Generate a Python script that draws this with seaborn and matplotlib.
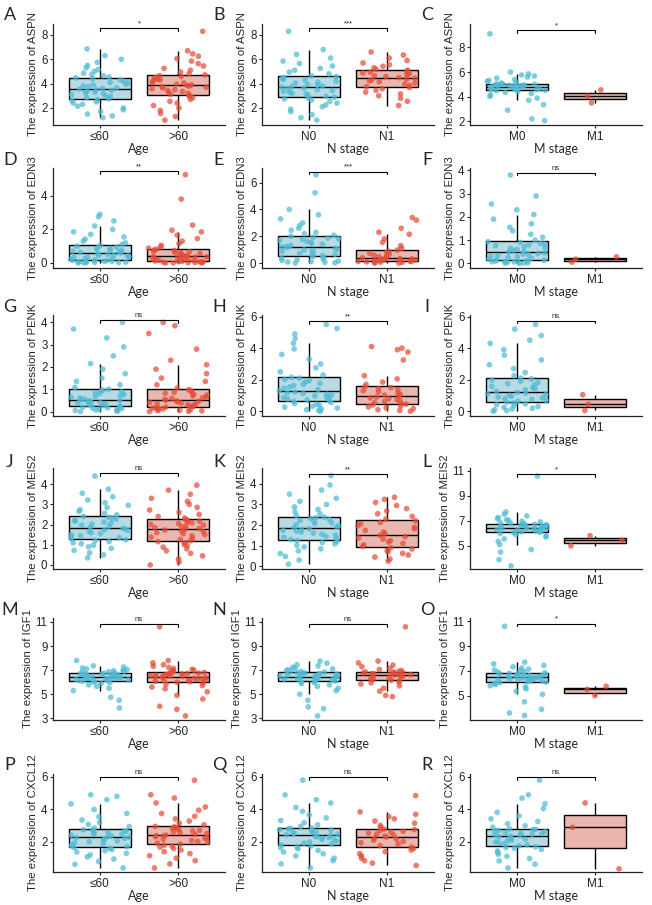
import numpy as np
import pandas as pd
import matplotlib
matplotlib.use("Agg")
import matplotlib.pyplot as plt
import seaborn as sns

# ---------------- data ----------------
aspn_le60 = [1.2, 1.35, 1.5, 1.7, 1.85, 2.0, 2.15, 2.3, 2.4, 2.5, 2.6, 2.68,
             2.75, 2.85, 2.95, 3.0, 3.1, 3.2, 3.25, 3.3, 3.38, 3.45, 3.5, 3.55,
             3.6, 3.65, 3.75, 3.8, 3.9, 3.95, 4.05, 4.1, 4.2, 4.3, 4.4, 4.48,
             4.55, 4.65, 4.75, 4.85, 5.0, 5.15, 5.3, 5.5, 5.75, 6.0, 6.3, 6.85]
aspn_gt60 = [1.0, 1.3, 1.55, 1.8, 2.0, 2.2, 2.4, 2.55, 2.7, 2.85, 2.95, 3.05,
             3.12, 3.2, 3.3, 3.35, 3.45, 3.5, 3.6, 3.65, 3.7, 3.75, 3.8, 3.85,
             3.9, 3.95, 4.05, 4.1, 4.2, 4.3, 4.35, 4.45, 4.5, 4.6, 4.65, 4.72,
             4.8, 4.95, 5.1, 5.25, 5.45, 5.65, 5.85, 6.05, 6.25, 6.45, 6.7, 8.3]
aspn_n0 = [1.0, 1.2, 1.45, 1.7, 1.9, 2.1, 2.25, 2.4, 2.55, 2.65, 2.75, 2.83,
           2.88, 2.95, 3.05, 3.15, 3.2, 3.3, 3.35, 3.45, 3.5, 3.58, 3.63, 3.7,
           3.75, 3.8, 3.9, 3.95, 4.05, 4.1, 4.2, 4.3, 4.35, 4.45, 4.5, 4.58,
           4.65, 4.8, 4.95, 5.1, 5.25, 5.45, 5.65, 5.85, 6.1, 6.4, 6.8, 8.3]
aspn_n1 = [2.2, 2.55, 2.8, 3.0, 3.15, 3.3, 3.45, 3.58, 3.68,
           3.75, 3.85, 3.95, 4.05, 4.15, 4.22, 4.3, 4.38, 4.45,
           4.5, 4.58, 4.65, 4.72, 4.8, 4.88, 4.95, 5.02, 5.1,
           5.18, 5.3, 5.42, 5.55, 5.7, 5.9, 6.1, 6.35, 6.6]
aspn_m0 = [2.05, 2.2, 2.9, 3.35, 3.7, 3.88, 4.02, 4.15, 4.26, 4.35, 4.42, 4.48,
           4.52, 4.55, 4.58, 4.6, 4.63, 4.66, 4.68, 4.7, 4.73, 4.75, 4.78, 4.8,
           4.82, 4.84, 4.86, 4.88, 4.9, 4.92, 4.94, 4.96, 4.98, 5.0, 5.02, 5.05,
           5.1, 5.17, 5.24, 5.32, 5.4, 5.5, 5.6, 5.68, 5.76, 5.85, 6.0, 9.1]
aspn_m1 = [3.5, 4.05, 4.55]

edn3_le60 = [0.0, 0.01, 0.02, 0.03, 0.04, 0.05, 0.06, 0.08, 0.1, 0.11, 0.13, 0.15,
             0.18, 0.22, 0.25, 0.28, 0.32, 0.35, 0.38, 0.42, 0.45, 0.48, 0.52, 0.55,
             0.6, 0.63, 0.67, 0.7, 0.75, 0.8, 0.83, 0.87, 0.9, 0.95, 1.0, 1.05,
             1.1, 1.2, 1.3, 1.42, 1.55, 1.7, 1.85, 2.0, 2.2, 2.5, 2.75, 2.9]
edn3_gt60 = [0.0, 0.0, 0.01, 0.02, 0.03, 0.04, 0.05, 0.06, 0.07, 0.08, 0.1, 0.12,
             0.14, 0.16, 0.19, 0.22, 0.24, 0.27, 0.3, 0.32, 0.35, 0.37, 0.39, 0.4,
             0.43, 0.46, 0.5, 0.53, 0.56, 0.6, 0.63, 0.67, 0.7, 0.74, 0.78, 0.82,
             0.88, 0.95, 1.05, 1.15, 1.3, 1.45, 1.65, 1.85, 1.95, 2.25, 3.8, 5.25]
edn3_n0 = [0.0, 0.02, 0.05, 0.08, 0.12, 0.15, 0.2, 0.25, 0.3, 0.36, 0.42, 0.5,
           0.55, 0.6, 0.66, 0.72, 0.8, 0.86, 0.92, 0.98, 1.04, 1.1, 1.15, 1.2,
           1.25, 1.32, 1.4, 1.48, 1.55, 1.62, 1.7, 1.76, 1.82, 1.88, 1.94, 2.0,
           2.08, 2.18, 2.3, 2.45, 2.6, 2.8, 3.0, 3.3, 3.6, 4.0, 5.25, 6.6]
edn3_n1 = [0.0, 0.01, 0.03, 0.05, 0.07, 0.09, 0.11, 0.13, 0.15,
           0.17, 0.2, 0.22, 0.25, 0.27, 0.29, 0.31, 0.33, 0.35,
           0.4, 0.46, 0.52, 0.58, 0.65, 0.72, 0.8, 0.88, 0.97,
           1.1, 1.3, 1.55, 1.8, 2.15, 2.3, 2.6, 3.2, 3.4]
edn3_m0 = [0.0, 0.01, 0.02, 0.03, 0.04, 0.05, 0.06, 0.07, 0.08, 0.1, 0.11, 0.13,
           0.16, 0.19, 0.22, 0.25, 0.28, 0.31, 0.34, 0.37, 0.4, 0.43, 0.46, 0.48,
           0.52, 0.56, 0.6, 0.64, 0.68, 0.72, 0.76, 0.8, 0.83, 0.86, 0.9, 0.93,
           1.0, 1.12, 1.25, 1.4, 1.55, 1.7, 1.9, 2.1, 2.3, 2.55, 2.9, 3.8]
edn3_m1 = [0.05, 0.18, 0.28]

penk_le60 = [0.0, 0.02, 0.03, 0.05, 0.07, 0.09, 0.11, 0.13, 0.15, 0.17, 0.2, 0.22,
             0.25, 0.27, 0.3, 0.32, 0.35, 0.38, 0.4, 0.43, 0.45, 0.48, 0.5, 0.52,
             0.56, 0.6, 0.64, 0.68, 0.72, 0.76, 0.8, 0.84, 0.88, 0.92, 0.96, 1.0,
             1.08, 1.2, 1.35, 1.5, 1.7, 1.9, 2.15, 2.5, 2.9, 3.3, 3.7, 4.0]
penk_gt60 = [0.0, 0.01, 0.03, 0.04, 0.06, 0.08, 0.1, 0.12, 0.14, 0.16, 0.18, 0.2,
             0.22, 0.25, 0.28, 0.3, 0.33, 0.36, 0.38, 0.41, 0.43, 0.46, 0.48, 0.5,
             0.54, 0.58, 0.62, 0.66, 0.7, 0.74, 0.78, 0.82, 0.86, 0.9, 0.94, 0.98,
             1.05, 1.2, 1.35, 1.5, 1.7, 1.9, 2.1, 2.3, 2.8, 3.5, 3.85, 4.0]
penk_n0 = [0.0, 0.05, 0.1, 0.15, 0.2, 0.26, 0.32, 0.38, 0.44, 0.5, 0.56, 0.62,
           0.67, 0.72, 0.77, 0.82, 0.87, 0.92, 0.97, 1.02, 1.08, 1.13, 1.18, 1.22,
           1.3, 1.38, 1.46, 1.54, 1.62, 1.7, 1.78, 1.86, 1.94, 2.02, 2.1, 2.15,
           2.3, 2.5, 2.75, 3.0, 3.3, 3.6, 3.95, 4.3, 4.6, 4.9, 5.25, 5.5]
penk_n1 = [0.0, 0.05, 0.1, 0.16, 0.22, 0.28, 0.34, 0.4, 0.45,
           0.5, 0.56, 0.62, 0.68, 0.74, 0.8, 0.85, 0.9, 0.95,
           1.02, 1.08, 1.15, 1.22, 1.3, 1.37, 1.44, 1.5, 1.55,
           1.7, 1.85, 2.05, 2.25, 3.25, 3.75, 3.9, 4.0, 4.1]
penk_m0 = [0.0, 0.04, 0.09, 0.14, 0.19, 0.25, 0.3, 0.36, 0.42, 0.47, 0.52, 0.58,
           0.63, 0.69, 0.74, 0.8, 0.85, 0.9, 0.96, 1.01, 1.06, 1.11, 1.16, 1.2,
           1.27, 1.35, 1.42, 1.5, 1.58, 1.66, 1.74, 1.82, 1.9, 1.98, 2.05, 2.1,
           2.25, 2.45, 2.7, 2.95, 3.25, 3.55, 3.9, 4.3, 4.5, 4.8, 5.2, 5.5]
penk_m1 = [0.05, 0.45, 1.05]

meis2_le60 = [0.35, 0.5, 0.6, 0.72, 0.82, 0.9, 0.98, 1.05, 1.1, 1.16, 1.2, 1.25,
              1.3, 1.35, 1.4, 1.45, 1.5, 1.55, 1.6, 1.65, 1.7, 1.74, 1.78, 1.82,
              1.87, 1.92, 1.97, 2.02, 2.07, 2.12, 2.17, 2.22, 2.27, 2.32, 2.36, 2.4,
              2.48, 2.56, 2.65, 2.74, 2.84, 2.95, 3.08, 3.22, 3.38, 3.55, 3.75, 4.4]
meis2_gt60 = [0.0, 0.15, 0.3, 0.45, 0.58, 0.7, 0.8, 0.88, 0.95, 1.02, 1.08, 1.15,
              1.2, 1.26, 1.32, 1.38, 1.44, 1.5, 1.55, 1.6, 1.65, 1.69, 1.73, 1.77,
              1.81, 1.85, 1.89, 1.93, 1.97, 2.01, 2.05, 2.09, 2.13, 2.17, 2.21, 2.25,
              2.32, 2.4, 2.5, 2.6, 2.72, 2.85, 3.0, 3.15, 3.3, 3.5, 3.7, 3.95]
meis2_n0 = [0.1, 0.3, 0.48, 0.62, 0.75, 0.85, 0.94, 1.02, 1.09, 1.15, 1.2, 1.25,
            1.3, 1.35, 1.41, 1.46, 1.51, 1.56, 1.61, 1.66, 1.71, 1.75, 1.79, 1.83,
            1.87, 1.92, 1.97, 2.02, 2.07, 2.12, 2.17, 2.22, 2.27, 2.31, 2.35, 2.38,
            2.46, 2.55, 2.65, 2.76, 2.88, 3.0, 3.15, 3.3, 3.5, 3.7, 3.95, 4.4]
meis2_n1 = [0.25, 0.35, 0.45, 0.55, 0.63, 0.7, 0.77, 0.84, 0.9,
            0.97, 1.04, 1.11, 1.18, 1.25, 1.32, 1.38, 1.44, 1.5,
            1.58, 1.66, 1.74, 1.82, 1.9, 1.98, 2.06, 2.13, 2.2,
            2.3, 2.42, 2.55, 2.68, 2.8, 2.95, 3.1, 3.25, 3.35]
meis2_m0 = [3.4, 3.9, 4.5, 4.7, 5.1, 5.35, 5.55, 5.7, 5.8, 5.9, 5.98, 6.05,
            6.08, 6.11, 6.14, 6.17, 6.2, 6.23, 6.26, 6.29, 6.32, 6.35, 6.38, 6.4,
            6.43, 6.46, 6.49, 6.52, 6.55, 6.58, 6.61, 6.64, 6.67, 6.7, 6.72, 6.75,
            6.8, 6.85, 6.9, 6.96, 7.02, 7.08, 7.15, 7.25, 7.38, 7.52, 7.7, 10.55]
meis2_m1 = [5.0, 5.45, 5.8]

igf1_le60 = [3.85, 4.5, 4.75, 5.3, 5.5, 5.65, 5.78, 5.88, 5.96, 6.02, 6.06, 6.1,
             6.13, 6.16, 6.19, 6.22, 6.25, 6.27, 6.3, 6.32, 6.34, 6.36, 6.38, 6.4,
             6.43, 6.46, 6.49, 6.52, 6.55, 6.58, 6.61, 6.64, 6.67, 6.7, 6.72, 6.75,
             6.79, 6.83, 6.87, 6.91, 6.95, 7.0, 7.05, 7.11, 7.18, 7.26, 7.35, 7.8]
igf1_gt60 = [3.2, 3.75, 4.0, 4.6, 4.9, 5.2, 5.45, 5.6, 5.72, 5.82, 5.92, 6.0,
             6.04, 6.08, 6.12, 6.16, 6.2, 6.24, 6.28, 6.32, 6.36, 6.4, 6.43, 6.45,
             6.48, 6.51, 6.54, 6.57, 6.6, 6.63, 6.66, 6.69, 6.72, 6.75, 6.78, 6.8,
             6.85, 6.9, 6.95, 7.0, 7.07, 7.14, 7.22, 7.32, 7.45, 7.6, 7.8, 10.6]
igf1_n0 = [3.2, 3.8, 3.95, 4.5, 5.0, 5.3, 5.5, 5.65, 5.78, 5.88, 5.97, 6.05,
           6.09, 6.13, 6.17, 6.21, 6.25, 6.28, 6.31, 6.34, 6.37, 6.4, 6.43, 6.45,
           6.48, 6.51, 6.54, 6.57, 6.6, 6.63, 6.66, 6.69, 6.72, 6.75, 6.78, 6.8,
           6.84, 6.88, 6.93, 6.98, 7.04, 7.1, 7.17, 7.25, 7.35, 7.45, 7.58, 7.75]
igf1_n1 = [4.8, 4.9, 5.25, 5.5, 5.7, 5.85, 5.95, 6.03, 6.1,
           6.16, 6.22, 6.28, 6.34, 6.4, 6.46, 6.51, 6.56, 6.6,
           6.63, 6.66, 6.69, 6.72, 6.75, 6.78, 6.8, 6.83, 6.85,
           6.9, 6.97, 7.05, 7.15, 7.28, 7.42, 7.6, 7.75, 10.6]
igf1_m0 = [3.4, 3.6, 3.9, 4.5, 5.1, 5.35, 5.55, 5.7, 5.8, 5.9, 5.98, 6.05,
           6.09, 6.13, 6.17, 6.21, 6.25, 6.28, 6.31, 6.34, 6.37, 6.4, 6.43, 6.45,
           6.48, 6.51, 6.54, 6.57, 6.6, 6.63, 6.66, 6.69, 6.72, 6.75, 6.78, 6.8,
           6.85, 6.9, 6.95, 7.01, 7.07, 7.14, 7.22, 7.32, 7.44, 7.56, 7.7, 10.6]
igf1_m1 = [5.0, 5.5, 5.75]

cxcl12_le60 = [0.4, 0.62, 0.8, 0.95, 1.08, 1.2, 1.3, 1.38, 1.46, 1.53, 1.6, 1.65,
               1.71, 1.77, 1.83, 1.89, 1.95, 2.01, 2.07, 2.12, 2.17, 2.22, 2.26, 2.3,
               2.34, 2.38, 2.42, 2.46, 2.5, 2.54, 2.58, 2.62, 2.66, 2.7, 2.73, 2.75,
               2.85, 2.95, 3.08, 3.2, 3.35, 3.55, 3.75, 4.0, 4.35, 4.6, 4.8, 4.9]
cxcl12_gt60 = [0.4, 0.65, 0.85, 1.0, 1.15, 1.28, 1.4, 1.5, 1.6, 1.68, 1.75, 1.8,
               1.86, 1.92, 1.98, 2.04, 2.1, 2.16, 2.22, 2.27, 2.32, 2.36, 2.39, 2.42,
               2.47, 2.52, 2.57, 2.62, 2.67, 2.72, 2.77, 2.81, 2.85, 2.89, 2.92, 2.95,
               3.05, 3.15, 3.28, 3.42, 3.58, 3.75, 3.95, 4.15, 4.4, 4.7, 4.9, 5.8]
cxcl12_n0 = [0.4, 0.65, 0.85, 1.0, 1.14, 1.27, 1.38, 1.48, 1.57, 1.64, 1.7, 1.75,
             1.81, 1.87, 1.93, 1.99, 2.05, 2.11, 2.17, 2.22, 2.27, 2.32, 2.36, 2.4,
             2.44, 2.48, 2.52, 2.56, 2.6, 2.64, 2.68, 2.72, 2.76, 2.8, 2.83, 2.85,
             2.95, 3.05, 3.18, 3.32, 3.48, 3.66, 3.88, 4.12, 4.4, 4.6, 4.9, 5.8]
cxcl12_n1 = [0.55, 0.7, 0.85, 1.0, 1.15, 1.28, 1.4, 1.5, 1.6,
             1.68, 1.77, 1.86, 1.95, 2.03, 2.1, 2.17, 2.24, 2.3,
             2.36, 2.42, 2.48, 2.54, 2.6, 2.66, 2.71, 2.76, 2.8,
             2.9, 3.02, 3.15, 3.28, 3.42, 3.56, 3.7, 3.85, 4.85]
cxcl12_m0 = [0.4, 0.63, 0.83, 0.98, 1.12, 1.24, 1.35, 1.45, 1.54, 1.61, 1.66, 1.7,
             1.76, 1.82, 1.88, 1.94, 2.0, 2.06, 2.12, 2.17, 2.22, 2.27, 2.31, 2.35,
             2.39, 2.43, 2.47, 2.51, 2.55, 2.59, 2.63, 2.67, 2.71, 2.75, 2.78, 2.8,
             2.9, 3.0, 3.12, 3.26, 3.42, 3.6, 3.82, 4.06, 4.35, 4.7, 4.9, 5.8]
cxcl12_m1 = [0.35, 2.9, 4.4]

genes = ["ASPN", "EDN3", "PENK", "MEIS2", "IGF1", "CXCL12"]
variables = ["Age", "N stage", "M stage"]
group_labels = {"Age": ["≤60", ">60"], "N stage": ["N0", "N1"], "M stage": ["M0", "M1"]}

expr = {
    ("ASPN", "Age"): (aspn_le60, aspn_gt60),
    ("ASPN", "N stage"): (aspn_n0, aspn_n1),
    ("ASPN", "M stage"): (aspn_m0, aspn_m1),
    ("EDN3", "Age"): (edn3_le60, edn3_gt60),
    ("EDN3", "N stage"): (edn3_n0, edn3_n1),
    ("EDN3", "M stage"): (edn3_m0, edn3_m1),
    ("PENK", "Age"): (penk_le60, penk_gt60),
    ("PENK", "N stage"): (penk_n0, penk_n1),
    ("PENK", "M stage"): (penk_m0, penk_m1),
    ("MEIS2", "Age"): (meis2_le60, meis2_gt60),
    ("MEIS2", "N stage"): (meis2_n0, meis2_n1),
    ("MEIS2", "M stage"): (meis2_m0, meis2_m1),
    ("IGF1", "Age"): (igf1_le60, igf1_gt60),
    ("IGF1", "N stage"): (igf1_n0, igf1_n1),
    ("IGF1", "M stage"): (igf1_m0, igf1_m1),
    ("CXCL12", "Age"): (cxcl12_le60, cxcl12_gt60),
    ("CXCL12", "N stage"): (cxcl12_n0, cxcl12_n1),
    ("CXCL12", "M stage"): (cxcl12_m0, cxcl12_m1),
}

# significance labels, row = gene, col = variable
sig_labels = [["*", "***", "*"],
              ["**", "***", "ns"],
              ["ns", "**", "ns"],
              ["ns", "**", "*"],
              ["ns", "ns", "*"],
              ["ns", "ns", "ns"]]
sig_height = [[8.55, 8.55, 9.41],
              [5.45, 6.82, 3.89],
              [4.1, 5.7, 5.73],
              [4.55, 4.48, 10.7],
              [10.83, 10.83, 10.8],
              [5.98, 5.98, 5.98]]

# axis settings
ylims = [[(0.6, 8.9), (0.6, 8.9), (1.7, 9.9)],
         [(-0.3, 5.65), (-0.37, 7.1), (-0.2, 4.1)],
         [(-0.2, 4.33), (-0.3, 6.1), (-0.3, 6.1)],
         [(-0.2, 4.8), (-0.13, 4.77), (3.15, 11.2)],
         [(2.86, 11.33), (2.86, 11.33), (3.03, 11.27)],
         [(0.15, 6.18), (0.15, 6.18), (0.15, 6.18)]]
yticks = [[[2, 4, 6, 8]] * 3,
          [[0, 2, 4], [0, 2, 4, 6], [0, 1, 2, 3, 4]],
          [[0, 1, 2, 3, 4], [0, 2, 4, 6], [0, 2, 4, 6]],
          [[0, 1, 2, 3, 4], [0, 1, 2, 3, 4], [5, 7, 9, 11]],
          [[3, 5, 7, 9, 11], [3, 5, 7, 9, 11], [5, 7, 9, 11]],
          [[2, 4, 6]] * 3]

letters = "ABCDEFGHIJKLMNOPQR"

# ---------------- style ----------------
sns.set_style("ticks")
plt.rcParams["font.family"] = ["Liberation Sans", "DejaVu Sans"]

point_colors = ["#4DBBD5", "#E64B35"]
box_colors = ["#AFE0EC", "#F4AEA4"]

W, H = 652, 905
fig = plt.figure(figsize=(W / 100, H / 100), dpi=100)

# panel placement in pixels
col_left = [53, 262, 470]
ax_w = 172
row_top = [24, 168, 315, 468, 618, 774]
row_bottom = [125, 268, 416, 569, 720, 872]
letter_y = [15, 160, 307, 462, 610, 765]

np.random.seed(3)

for r, gene in enumerate(genes):
    for c, var in enumerate(variables):
        left = col_left[c] / W
        bottom = 1 - row_bottom[r] / H
        ax_h = row_bottom[r] - row_top[r]
        ax = fig.add_axes([left, bottom, ax_w / W, ax_h / H])

        labs = group_labels[var]
        vals = expr[(gene, var)]
        df = pd.DataFrame({
            "group": np.repeat(labs, [len(v) for v in vals]),
            "value": np.concatenate([np.asarray(v, float) for v in vals]),
        })

        sns.boxplot(data=df, x="group", y="value", hue="group", order=labs,
                    hue_order=labs, palette=box_colors, width=0.8,
                    showfliers=False, showcaps=False, linecolor="black",
                    linewidth=1.0, legend=False, ax=ax)
        sns.stripplot(data=df, x="group", y="value", hue="group", order=labs,
                      hue_order=labs, palette=point_colors, jitter=0.38,
                      size=4.1, alpha=0.72, linewidth=0, legend=False,
                      zorder=3, ax=ax)

        y0, y1 = ylims[r][c]
        ax.set_ylim(y0, y1)
        ax.set_xlim(-0.6, 1.6)
        ax.set_yticks(yticks[r][c])

        # significance bracket
        sy = sig_height[r][c]
        t = 0.025 * (y1 - y0)
        ax.plot([0, 0, 1, 1], [sy - t, sy, sy, sy - t], color="black", lw=0.8,
                solid_joinstyle="miter", zorder=4)
        ax.text(0.5, sy + 0.01 * (y1 - y0), sig_labels[r][c], ha="center",
                va="bottom", fontsize=5.5, color="#222222")

        sns.despine(ax=ax)
        for sp in ["left", "bottom"]:
            ax.spines[sp].set_linewidth(0.9)
            ax.spines[sp].set_color("#222222")
        ax.tick_params(axis="both", length=2.5, width=0.8, labelsize=8.3,
                       colors="#222222", pad=1.5)
        ax.tick_params(axis="x", labelsize=8.5)
        ax.set_ylabel(f"The expression of {gene}", fontsize=8.2, labelpad=2)
        ax.set_xlabel(var, fontsize=9, family=["Lato", "DejaVu Sans"], labelpad=0)

        fig.text((col_left[c] - 43) / W, 1 - letter_y[r] / H,
                 letters[r * 3 + c], fontsize=13, family=["Lato", "DejaVu Sans"],
                 ha="center", va="center")

fig.savefig("out.png", dpi=100)
